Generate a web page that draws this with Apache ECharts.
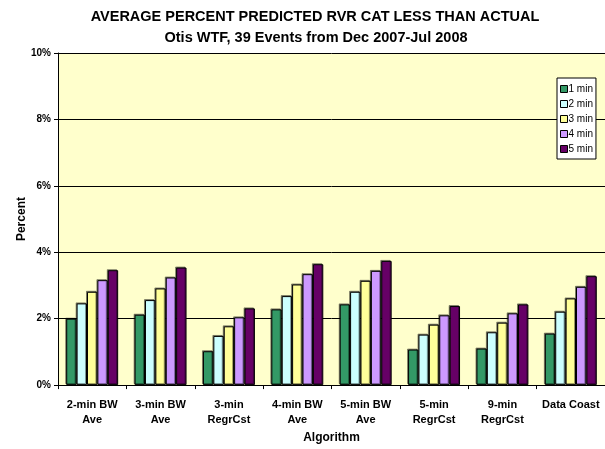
<!DOCTYPE html>
<html>
<head>
<meta charset="utf-8">
<script src="https://cdn.jsdelivr.net/npm/echarts@6/dist/echarts.min.js"></script>
<style>
  html, body { margin: 0; padding: 0; background: #ffffff; }
  #chart { width: 605px; height: 449px; }
</style>
</head>
<body>
<div id="chart"></div>
<script>
// Algorithms compared
const categories = ['2-min BW\nAve', '3-min BW\nAve', '3-min\nRegrCst', '4-min BW\nAve',
                    '5-min BW\nAve', '5-min\nRegrCst', '9-min\nRegrCst', 'Data Coast'];

// Average percent (per forecast lead time)
const min1 = [2.00, 2.12, 1.02, 2.28, 2.43, 1.07, 1.10, 1.55];
const min2 = [2.46, 2.56, 1.48, 2.68, 2.81, 1.52, 1.59, 2.21];
const min3 = [2.81, 2.91, 1.77, 3.03, 3.14, 1.82, 1.88, 2.61];
const min4 = [3.16, 3.24, 2.04, 3.34, 3.44, 2.10, 2.16, 2.96];
const min5 = [3.46, 3.54, 2.31, 3.64, 3.74, 2.38, 2.43, 3.28];

const seriesNames = ['1 min', '2 min', '3 min', '4 min', '5 min'];
const seriesData = [min1, min2, min3, min4, min5];
const colors = ['#339966', '#CCFFFF', '#FFFF99', '#CC99FF', '#660066'];

const FONT = 'Liberation Sans, Arial, sans-serif';

const chart = echarts.init(document.getElementById('chart'));
chart.setOption({
  animation: false,
  backgroundColor: '#ffffff',
  color: colors,
  title: [
    { text: 'AVERAGE PERCENT PREDICTED RVR CAT LESS THAN ACTUAL', left: 310, top: 4, textAlign: 'center',
      textStyle: { fontFamily: FONT, fontSize: 14.5, fontWeight: 'bold', color: '#000' } },
    { text: 'Otis WTF, 39 Events from Dec 2007-Jul 2008', left: 311, top: 25, textAlign: 'center',
      textStyle: { fontFamily: FONT, fontSize: 14.5, fontWeight: 'bold', color: '#000' } }
  ],
  legend: {
    orient: 'vertical',
    left: 557, top: 78,
    padding: [5, 3, 4, 3],
    itemWidth: 7, itemHeight: 7, itemGap: 3,
    backgroundColor: '#ffffff',
    borderColor: '#000', borderWidth: 1,
    icon: 'rect',
    textStyle: { fontFamily: FONT, fontSize: 10, color: '#000', padding: [0, 0, 0, -4], lineHeight: 12 },
    data: seriesNames.map((n) => ({ name: n, itemStyle: { borderColor: '#000', borderWidth: 1 } }))
  },
  grid: { left: 58, right: 0, top: 53, bottom: 63, show: true, backgroundColor: '#FFFFCC', borderWidth: 0 },
  xAxis: {
    type: 'category',
    data: categories,
    name: 'Algorithm', nameLocation: 'middle', nameGap: 46,
    nameTextStyle: { fontFamily: FONT, fontSize: 12, fontWeight: 'bold', color: '#000' },
    axisLine: { lineStyle: { color: '#000', width: 1 } },
    axisTick: { show: true, length: 4, interval: 0, lineStyle: { color: '#000' } },
    axisLabel: { interval: 0, fontFamily: FONT, fontSize: 11, fontWeight: 'bold', color: '#000', margin: 12, lineHeight: 15 }
  },
  yAxis: {
    type: 'value', min: 0, max: 10, interval: 2,
    name: 'Percent', nameLocation: 'middle', nameGap: 30, nameRotate: 90,
    nameMoveOverlap: false,
    nameTextStyle: { fontFamily: FONT, fontSize: 12, fontWeight: 'bold', color: '#000' },
    axisLine: { show: true, lineStyle: { color: '#000', width: 1 } },
    axisTick: { show: true, length: 4, inside: false, lineStyle: { color: '#000' } },
    axisLabel: { fontFamily: FONT, fontSize: 10, fontWeight: 'bold', color: '#000', margin: 7,
                 formatter: (v) => v + '%' },
    splitLine: { lineStyle: { color: '#000', width: 1 } }
  },
  series: seriesNames.map((name, i) => ({
    name,
    type: 'bar',
    data: seriesData[i],
    barGap: '0%',
    barCategoryGap: '24%',
    itemStyle: {
      color: colors[i], borderColor: '#000', borderWidth: 1,
      shadowColor: 'rgba(0,0,0,0.4)', shadowOffsetX: -1, shadowOffsetY: -1, shadowBlur: 0
    }
  }))
});
</script>
</body>
</html>
